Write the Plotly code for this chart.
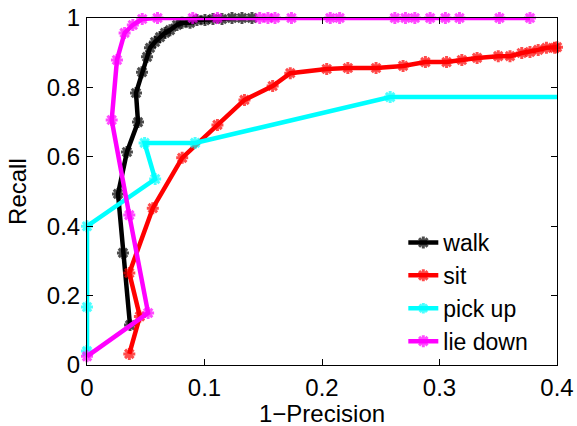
import plotly.graph_objects as go

# Precision-recall curves per activity class (x = 1 - precision, y = recall)
walk_x = [0.0366, 0.0306, 0.0264, 0.0340, 0.0434, 0.0417, 0.0468, 0.0511, 0.0536, 0.0579,
          0.0621, 0.0664, 0.0706, 0.0766, 0.0809, 0.0877, 0.0936, 0.1004, 0.1072, 0.1149,
          0.1234, 0.1319, 0.1404]
walk_y = [0.115, 0.323, 0.493, 0.614, 0.700, 0.784, 0.844, 0.888, 0.914, 0.931,
          0.945, 0.957, 0.965, 0.980, 0.986, 0.986, 0.994, 0.994, 0.997, 0.997,
          1.0, 1.0, 1.0]

sit_x = [0.036, 0.045, 0.036, 0.056, 0.081, 0.111, 0.134, 0.158, 0.173, 0.204,
         0.222, 0.246, 0.269, 0.288, 0.306, 0.319, 0.332, 0.350, 0.360, 0.370,
         0.377, 0.384, 0.391, 0.398, 0.400]
sit_y = [0.032, 0.140, 0.265, 0.452, 0.597, 0.692, 0.764, 0.804, 0.841, 0.853,
         0.856, 0.856, 0.862, 0.873, 0.873, 0.879, 0.885, 0.890, 0.890, 0.899,
         0.902, 0.908, 0.914, 0.914, 0.916]

pick_x = [0.0, 0.0, 0.0, 0.058, 0.049, 0.092, 0.258, 0.400]
pick_y = [0.040, 0.167, 0.400, 0.536, 0.640, 0.640, 0.772, 0.772]

lie_x = [0.0, 0.052, 0.036, 0.021, 0.0255, 0.032, 0.039, 0.047, 0.060, 0.090,
         0.111, 0.147, 0.154, 0.160, 0.174, 0.207, 0.215, 0.262, 0.271, 0.279,
         0.292, 0.305, 0.317, 0.351, 0.377]
lie_y = [0.025, 0.150, 0.432, 0.706, 0.879, 0.957, 0.980, 0.997, 1.0, 1.0,
         1.0, 1.0, 1.0, 1.0, 1.0, 1.0, 1.0, 1.0, 1.0, 1.0,
         1.0, 1.0, 1.0, 1.0, 1.0]

x_ticks = [0, 0.1, 0.2, 0.3, 0.4]
x_ticklabels = ["0", "0.1", "0.2", "0.3", "0.4"]
y_ticks = [0, 0.2, 0.4, 0.6, 0.8, 1.0]
y_ticklabels = ["0", "0.2", "0.4", "0.6", "0.8", "1"]

FONT = "Liberation Sans, Arial, Helvetica, sans-serif"
FS = 24

series = [
    ("walk", walk_x, walk_y, "#000000"),
    ("sit", sit_x, sit_y, "#ff0000"),
    ("pick up", pick_x, pick_y, "#00ffff"),
    ("lie down", lie_x, lie_y, "#ff00ff"),
]

fig = go.Figure()
for name, xs, ys, color in series:
    sizes = [10] * len(xs)
    if name == "pick up":
        sizes[-1] = 0  # line runs on to the axis edge without a final marker
    fig.add_trace(go.Scatter(
        x=xs, y=ys, name=name, mode="lines+markers",
        line=dict(color=color, width=4.5),
        marker=dict(symbol="asterisk-open", size=sizes,
                    line=dict(color=color, width=3)),
        cliponaxis=False,
    ))

axis_common = dict(
    showgrid=False, zeroline=False, showline=True, linecolor="black",
    linewidth=1, mirror="ticks", ticks="inside", ticklen=6, tickwidth=1,
    tickcolor="black", tickfont=dict(family=FONT, size=FS, color="black"),
    automargin=False,
)

fig.update_layout(
    width=577, height=426,
    margin=dict(l=87, r=20, t=18, b=61),
    paper_bgcolor="white", plot_bgcolor="white",
    font=dict(family=FONT, size=FS, color="black"),
    xaxis=dict(range=[0, 0.4], tickvals=x_ticks, ticktext=x_ticklabels,
               ticklabelstandoff=1, **axis_common),
    yaxis=dict(range=[0, 1], tickvals=y_ticks, ticktext=y_ticklabels,
               ticklabelstandoff=1, **axis_common),
    legend=dict(x=0.673, y=0.415, xanchor="left", yanchor="top",
                bgcolor="rgba(0,0,0,0)", borderwidth=0,
                font=dict(family=FONT, size=23), tracegroupgap=0,
                itemwidth=30),
    annotations=[
        dict(text="1\u2212Precision", xref="paper", yref="paper",
             x=0.5, y=-0.14, xanchor="center", yanchor="middle",
             showarrow=False, font=dict(family=FONT, size=FS)),
        dict(text="Recall", xref="paper", yref="paper",
             x=-0.148, y=0.5, xanchor="center", yanchor="middle",
             textangle=-90, showarrow=False, font=dict(family=FONT, size=FS)),
    ],
)

fig.write_html("out.html")
